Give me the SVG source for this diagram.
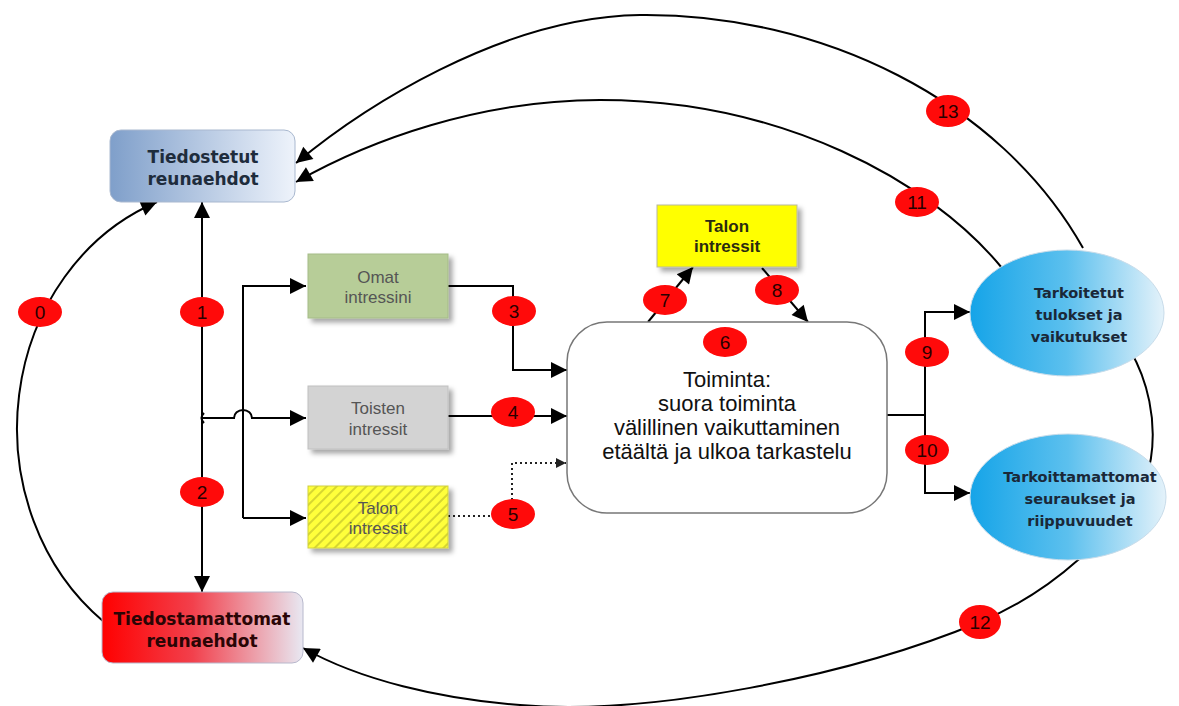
<svg xmlns="http://www.w3.org/2000/svg" width="1179" height="706" viewBox="0 0 1179 706">
<style>
.ln{fill:none;stroke:#000;stroke-width:2}
.arr{marker-end:url(#ah)}
.dot{fill:none;stroke:#222;stroke-width:2;stroke-dasharray:2 3}
.bd{fill:#ff0a0a}
.bt{font-family:"Liberation Sans",Arial,sans-serif;font-size:19px;fill:#2a0000;text-anchor:middle}
.vt{font-family:"DejaVu Sans",Verdana,sans-serif;font-weight:bold;text-anchor:middle}
.at{font-family:"Liberation Sans",Arial,sans-serif;text-anchor:middle}
</style>
<defs>
<marker id="ah" viewBox="0 0 10 10" refX="10" refY="5" markerWidth="10" markerHeight="8" orient="auto-start-reverse">
<path d="M0,0 L10,5 L0,10 z" fill="#000"/>
</marker>
<marker id="ahs" viewBox="0 0 10 10" refX="10" refY="5" markerWidth="6" markerHeight="5" orient="auto">
<path d="M0,0 L10,5 L0,10 z" fill="#222"/>
</marker>
<linearGradient id="gBlue" x1="0" y1="0" x2="1" y2="0">
<stop offset="0" stop-color="#7f9fca"/><stop offset="1" stop-color="#eef3fb"/>
</linearGradient>
<linearGradient id="gRed" x1="0" y1="0" x2="1" y2="0">
<stop offset="0" stop-color="#ff0000"/><stop offset="0.45" stop-color="#f2404c"/><stop offset="1" stop-color="#e8e8f2"/>
</linearGradient>
<linearGradient id="gSky" x1="0" y1="0" x2="1" y2="0">
<stop offset="0" stop-color="#15a4e8"/><stop offset="0.5" stop-color="#5cc0ee"/><stop offset="1" stop-color="#e4f2fa"/>
</linearGradient>
<pattern id="stripe" width="7" height="7" patternUnits="userSpaceOnUse" patternTransform="rotate(45)">
<rect width="7" height="7" fill="#ffff3a"/>
<rect width="2" height="7" fill="#d6d630"/>
</pattern>
<filter id="sh" x="-10%" y="-15%" width="130%" height="140%">
<feDropShadow dx="4" dy="4" stdDeviation="2.5" flood-color="#000" flood-opacity="0.35"/>
</filter>
</defs>
<rect width="1179" height="706" fill="#fff"/>

<g id="connectors">
<path class="ln arr" d="M104,622 A217 242 0 0 1 157,202"/>
<path class="ln" d="M202,202 V592" marker-start="url(#ah)" marker-end="url(#ah)"/>
<path class="ln" d="M204,413 q-5,5 0,10"/>
<path class="ln arr" d="M203,418 H234 a9 8 0 0 1 18 0 H306"/>
<path class="ln arr" d="M243,518 V286 H306"/>
<path class="ln arr" d="M243,518 H306"/>
<path class="ln arr" d="M448,286 H513 V370 H567"/>
<path class="ln arr" d="M448,416 H567"/>
<path class="dot" d="M448,516 H512 V463 H566" marker-end="url(#ahs)"/>
<path class="ln arr" d="M648,322 L693,267"/>
<path class="ln arr" d="M762,268 L808,322"/>
<path class="ln" d="M887,415 H925"/>
<path class="ln arr" d="M925,415 V312 H970"/>
<path class="ln arr" d="M925,415 V493 H970"/>
<path class="ln arr" d="M1083,248 C1000,100 820,13 640,15 C500,17 360,110 296,163"/>
<path class="ln arr" d="M1002,268 C930,180 780,100 600,100 C480,100 370,140 296,182"/>
<path class="ln arr" d="M1130,350 C1165,410 1168,510 1078,560 C1050,585 1020,605 980,622 C850,676 650,716 520,705 C440,699 360,680 303,648"/>
</g>

<g id="tiedostetut">
<rect x="110" y="130" width="185" height="72" rx="11" fill="url(#gBlue)" stroke="#a9b8cf" stroke-width="1"/>
<text class="vt" font-size="17" fill="#1e2c3c"><tspan x="203" y="163">Tiedostetut</tspan><tspan x="203" y="185">reunaehdot</tspan></text>
</g>

<g id="tiedostamattomat">
<rect x="102" y="592" width="201" height="71" rx="11" fill="url(#gRed)" stroke="#b8b8cc" stroke-width="1"/>
<text class="vt" font-size="17" fill="#2a0505"><tspan x="202" y="625">Tiedostamattomat</tspan><tspan x="202" y="647">reunaehdot</tspan></text>
</g>

<g id="omat">
<rect x="308" y="254" width="140" height="64" fill="#b7cd98" stroke="#a5bb88" stroke-width="1" filter="url(#sh)"/>
<text class="at" font-size="17" fill="#555"><tspan x="378" y="283">Omat</tspan><tspan x="378" y="303">intressini</tspan></text>
</g>

<g id="toisten">
<rect x="308" y="386" width="140" height="63" fill="#d3d3d3" stroke="#c0c0c0" stroke-width="1" filter="url(#sh)"/>
<text class="at" font-size="17" fill="#555"><tspan x="378" y="414">Toisten</tspan><tspan x="378" y="435">intressit</tspan></text>
</g>

<g id="talon-alempi">
<rect x="308" y="486" width="140" height="62" fill="url(#stripe)" stroke="#d0d040" stroke-width="1" filter="url(#sh)"/>
<text class="at" font-size="17" fill="#555"><tspan x="378" y="514">Talon</tspan><tspan x="378" y="534">intressit</tspan></text>
</g>

<g id="talon-ylempi">
<rect x="657" y="205" width="140" height="62" fill="#ffff00" stroke="#b8b8a0" stroke-width="1" filter="url(#sh)"/>
<text class="at" font-size="17" font-weight="bold" fill="#2a2a10"><tspan x="727" y="232">Talon</tspan><tspan x="727" y="252">intressit</tspan></text>
</g>

<g id="toiminta">
<rect x="567" y="322" width="320" height="191" rx="40" fill="#fff" stroke="#777" stroke-width="1.5"/>
<text class="at" font-size="22" fill="#111"><tspan x="727" y="387">Toiminta:</tspan><tspan x="727" y="411">suora toiminta</tspan><tspan x="727" y="435">välillinen vaikuttaminen</tspan><tspan x="727" y="459">etäältä ja ulkoa tarkastelu</tspan></text>
</g>

<g id="tarkoitetut">
<ellipse cx="1067" cy="313" rx="97" ry="63" fill="url(#gSky)" stroke="#c8dcea" stroke-width="1"/>
<text class="vt" font-size="14.5" fill="#1a2838"><tspan x="1079" y="298">Tarkoitetut</tspan><tspan x="1079" y="320">tulokset ja</tspan><tspan x="1079" y="342">vaikutukset</tspan></text>
</g>

<g id="tarkoittamattomat">
<ellipse cx="1068" cy="497" rx="98" ry="63" fill="url(#gSky)" stroke="#c8dcea" stroke-width="1"/>
<text class="vt" font-size="14.5" fill="#1a2838"><tspan x="1080" y="482">Tarkoittamattomat</tspan><tspan x="1080" y="504">seuraukset ja</tspan><tspan x="1080" y="526">riippuvuudet</tspan></text>
</g>

<g id="badges">
<ellipse class="bd" cx="40" cy="312" rx="22" ry="15"/><text class="bt" x="40" y="319">0</text>
<ellipse class="bd" cx="202" cy="312" rx="22" ry="15"/><text class="bt" x="202" y="319">1</text>
<ellipse class="bd" cx="202" cy="492" rx="22" ry="15"/><text class="bt" x="202" y="499">2</text>
<ellipse class="bd" cx="514" cy="311" rx="22" ry="15"/><text class="bt" x="514" y="318">3</text>
<ellipse class="bd" cx="513" cy="412" rx="22" ry="15"/><text class="bt" x="513" y="419">4</text>
<ellipse class="bd" cx="513" cy="514" rx="22" ry="15"/><text class="bt" x="513" y="521">5</text>
<ellipse class="bd" cx="725" cy="342" rx="22" ry="15"/><text class="bt" x="725" y="349">6</text>
<ellipse class="bd" cx="665" cy="300" rx="22" ry="15"/><text class="bt" x="665" y="307">7</text>
<ellipse class="bd" cx="777" cy="290" rx="22" ry="15"/><text class="bt" x="777" y="297">8</text>
<ellipse class="bd" cx="927" cy="352" rx="22" ry="15"/><text class="bt" x="927" y="359">9</text>
<ellipse class="bd" cx="927" cy="450" rx="22" ry="15"/><text class="bt" x="927" y="457">10</text>
<ellipse class="bd" cx="917" cy="202" rx="22" ry="15"/><text class="bt" x="917" y="209">11</text>
<ellipse class="bd" cx="980" cy="622" rx="21" ry="17"/><text class="bt" x="980" y="629">12</text>
<ellipse class="bd" cx="948" cy="111" rx="22" ry="16"/><text class="bt" x="948" y="118">13</text>
</g>
</svg>
